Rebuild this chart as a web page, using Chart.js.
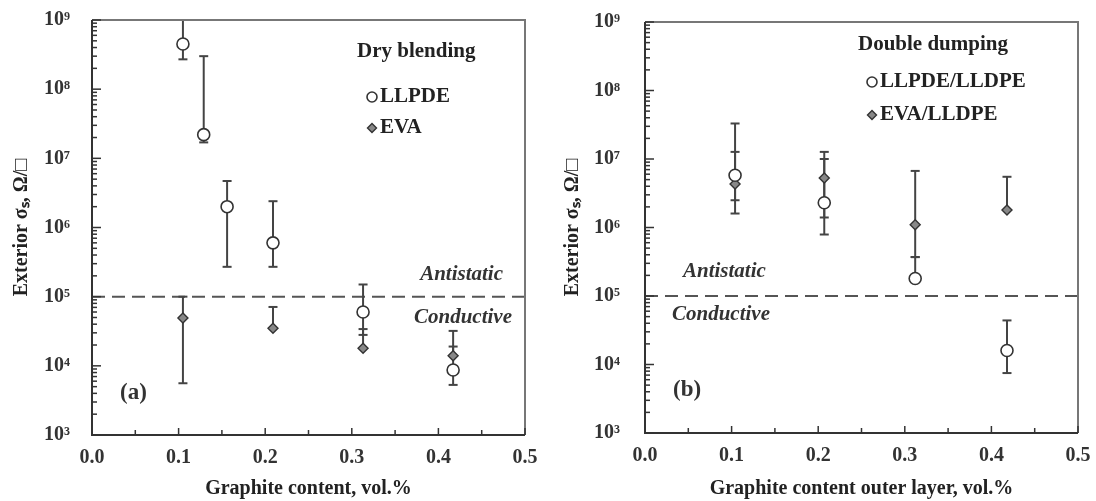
<!DOCTYPE html>
<html lang="en">
<head>
<meta charset="UTF-8" />
<title>Exterior surface resistivity vs graphite content</title>
<style>
  body { margin: 0; background: #fff; }
  .wrap { position: relative; width: 1096px; height: 501px; }
  .panel { position: absolute; top: 0; width: 548px; height: 501px; }
  #left { left: 0; }
  #right { left: 548px; }
</style>
</head>
<body>
<div class="wrap">
  <div class="panel" id="left"><canvas id="chartA" width="548" height="501"></canvas></div>
  <div class="panel" id="right"><canvas id="chartB" width="548" height="501"></canvas></div>
</div>
<script src="https://cdn.jsdelivr.net/npm/chart.js"></script>
<script>
  // axis ticks
  const yMajorExps = [3, 4, 5, 6, 7, 8, 9];
  const yTickLabels = ['10³', '10⁴', '10⁵', '10⁶', '10⁷', '10⁸', '10⁹'];
  const xTickLabels = ['0.0', '0.1', '0.2', '0.3', '0.4', '0.5'];
  const threshold = 1e5;

  // (a) Dry blending
  const aX_LLPDE  = [0.105, 0.129, 0.156, 0.209, 0.313, 0.417];
  const aY_LLPDE  = [4.5e8, 2.2e7, 2.0e6, 6.0e5, 6.0e4, 8.7e3];
  const aLo_LLPDE = [2.7e8, 1.7e7, 2.7e5, 2.7e5, 2.8e4, 5.3e3];
  const aHi_LLPDE = [1.0e9, 3.0e8, 4.7e6, 2.4e6, 1.5e5, 3.2e4];
  const aX_EVA    = [0.105, 0.209, 0.313, 0.417];
  const aY_EVA    = [4.9e4, 3.5e4, 1.8e4, 1.4e4];
  const aLo_EVA   = [5.6e3, 3.5e4, 1.8e4, 1.4e4];
  const aHi_EVA   = [1.0e5, 7.1e4, 3.4e4, 1.9e4];

  // (b) Double dumping
  const bX_LL  = [0.104, 0.207, 0.312, 0.418];
  const bY_LL  = [5.8e6, 2.3e6, 1.8e5, 1.6e4];
  const bLo_LL = [1.6e6, 7.9e5, 1.8e5, 7.5e3];
  const bHi_LL = [3.3e7, 1.0e7, 3.7e5, 4.4e4];
  const bX_EVA  = [0.104, 0.207, 0.312, 0.418];
  const bY_EVA  = [4.3e6, 5.3e6, 1.1e6, 1.8e6];
  const bLo_EVA = [2.5e6, 1.4e6, 3.7e5, 1.8e6];
  const bHi_EVA = [1.27e7, 1.27e7, 6.7e6, 5.5e6];

  const FONT = "'Liberation Serif', 'Times New Roman', serif";
  const INK = '#333';

  // y ticks: majors plus log minors (2..9) per decade
  const yTickValues = [];
  yMajorExps.forEach((e, i) => {
    yTickValues.push(Math.pow(10, e));
    if (i < yMajorExps.length - 1) {
      for (let m = 2; m <= 9; m++) yTickValues.push(m * Math.pow(10, e));
    }
  });

  function toPoints(xs, ys) {
    return xs.map((v, i) => ({ x: v, y: ys[i] }));
  }

  function drawCircle(ctx, x, y, r) {
    ctx.beginPath(); ctx.arc(x, y, r, 0, Math.PI * 2);
    ctx.fillStyle = '#fff'; ctx.fill();
    ctx.lineWidth = 1.6; ctx.strokeStyle = INK; ctx.stroke();
  }
  function drawDiamond(ctx, x, y, r) {
    ctx.beginPath();
    ctx.moveTo(x, y - r); ctx.lineTo(x + r, y); ctx.lineTo(x, y + r); ctx.lineTo(x - r, y);
    ctx.closePath();
    ctx.fillStyle = '#888'; ctx.fill();
    ctx.lineWidth = 1.4; ctx.strokeStyle = INK; ctx.stroke();
  }

  const decorPlugin = {
    id: 'decor',
    beforeDatasetsDraw(chart, args, opts) {
      const { ctx, chartArea: a, scales: { x, y } } = chart;
      ctx.save();
      // Antistatic / Conductive boundary
      const ty = y.getPixelForValue(threshold);
      ctx.strokeStyle = '#555';
      ctx.lineWidth = 2;
      ctx.setLineDash([13, 7]);
      ctx.beginPath(); ctx.moveTo(a.left, ty); ctx.lineTo(a.right, ty); ctx.stroke();
      ctx.setLineDash([]);
      // error bars
      ctx.strokeStyle = '#444';
      ctx.lineWidth = 2;
      opts.errors.forEach(e => {
        e.x.forEach((xv, i) => {
          const px = x.getPixelForValue(xv);
          const p1 = y.getPixelForValue(e.lo[i]);
          const p2 = y.getPixelForValue(e.hi[i]);
          ctx.beginPath(); ctx.moveTo(px, p1); ctx.lineTo(px, p2); ctx.stroke();
          [p1, p2].forEach(p => {
            if (Math.abs(p - y.getPixelForValue(e.y[i])) > 2) {
              ctx.beginPath(); ctx.moveTo(px - 4.5, p); ctx.lineTo(px + 4.5, p); ctx.stroke();
            }
          });
        });
      });
      ctx.restore();
    },
    afterDraw(chart, args, opts) {
      const { ctx, chartArea: a, scales: { x, y } } = chart;
      ctx.save();
      // frame
      ctx.lineWidth = 2;
      ctx.strokeStyle = '#777';
      ctx.beginPath();
      ctx.moveTo(a.left, a.top); ctx.lineTo(a.right, a.top); ctx.lineTo(a.right, a.bottom);
      ctx.stroke();
      ctx.strokeStyle = INK;
      ctx.beginPath();
      ctx.moveTo(a.left, a.top); ctx.lineTo(a.left, a.bottom); ctx.lineTo(a.right, a.bottom);
      ctx.stroke();
      // inward ticks
      ctx.lineWidth = 1.5;
      y.ticks.forEach(t => {
        const p = y.getPixelForValue(t.value);
        const e = Math.log10(t.value);
        const len = Math.abs(e - Math.round(e)) < 1e-6 ? 9 : 5;
        ctx.beginPath(); ctx.moveTo(a.left, p); ctx.lineTo(a.left + len, p); ctx.stroke();
      });
      for (let v = 0.05; v < 0.5; v += 0.05) {
        const p = x.getPixelForValue(v);
        const len = Math.abs(v * 10 - Math.round(v * 10)) < 1e-6 ? 7 : 5;
        ctx.beginPath(); ctx.moveTo(p, a.bottom); ctx.lineTo(p, a.bottom - len); ctx.stroke();
      }
      // texts
      ctx.fillStyle = INK;
      ctx.textBaseline = 'middle';
      opts.texts.forEach(t => {
        ctx.font = t.font;
        ctx.textAlign = t.align;
        ctx.fillText(t.text, (t.fromRight ? a.right : a.left) + t.dx, t.y);
      });
      // legend
      const L = opts.legend;
      ctx.font = 'bold 21px ' + FONT;
      ctx.textAlign = 'left';
      ctx.fillStyle = '#222';
      ctx.fillText(L.title, a.left + L.titleDx, L.titleY);
      ctx.font = 'bold 21px ' + FONT;
      L.items.forEach((it, i) => {
        const sx = a.left + L.symDx, sy = L.itemY[i];
        if (it.style === 'circle') drawCircle(ctx, sx, sy, 5);
        else drawDiamond(ctx, sx, sy, 4.5);
        ctx.fillStyle = '#222';
        ctx.fillText(it.label, sx + 8, sy);
      });
      ctx.restore();
    }
  };

  function makePanel(id, cfg) {
    const tickFont = { family: FONT, size: 20, weight: 'bold' };
    return new Chart(document.getElementById(id), {
      type: 'scatter',
      data: {
        datasets: [
          {
            label: cfg.names[0],
            data: toPoints(cfg.s1.x, cfg.s1.y),
            pointStyle: 'circle',
            pointRadius: 6,
            pointBorderWidth: 1.6,
            backgroundColor: '#fff',
            borderColor: INK
          },
          {
            label: cfg.names[1],
            data: toPoints(cfg.s2.x, cfg.s2.y),
            pointStyle: 'rectRot',
            pointRadius: 5,
            pointBorderWidth: 1.4,
            backgroundColor: '#888',
            borderColor: INK
          }
        ]
      },
      options: {
        responsive: false,
        animation: false,
        layout: { padding: { top: cfg.top, right: cfg.right, left: 0, bottom: 0 } },
        plugins: {
          legend: { display: false },
          tooltip: { enabled: false },
          decor: {
            errors: [
              { x: cfg.s1.x, y: cfg.s1.y, lo: cfg.s1.lo, hi: cfg.s1.hi },
              { x: cfg.s2.x, y: cfg.s2.y, lo: cfg.s2.lo, hi: cfg.s2.hi }
            ],
            texts: cfg.texts,
            legend: cfg.legend
          }
        },
        scales: {
          x: {
            type: 'linear',
            min: 0,
            max: 0.5,
            afterFit: s => { s.height = cfg.xH; s.paddingLeft = 0; s.paddingRight = 0; },
            afterBuildTicks: s => { s.ticks = xTickLabels.map(l => ({ value: parseFloat(l) })); },
            ticks: {
              callback: (v, i) => xTickLabels[i],
              font: tickFont, color: INK, padding: 3, maxRotation: 0
            },
            grid: { display: false },
            border: { display: false },
            title: {
              display: true,
              text: cfg.xTitle,
              font: { family: FONT, size: 20, weight: 'bold' },
              color: '#222',
              padding: { top: 2, bottom: 0 }
            }
          },
          y: {
            type: 'logarithmic',
            min: 1e3,
            max: 1e9,
            afterFit: s => { s.width = cfg.yW; s.paddingTop = 0; s.paddingBottom = 0; },
            afterBuildTicks: s => { s.ticks = yTickValues.map(v => ({ value: v })); },
            ticks: {
              autoSkip: false,
              callback: v => {
                const e = Math.log10(v);
                if (Math.abs(e - Math.round(e)) > 1e-6) return '';
                return yTickLabels[yMajorExps.indexOf(Math.round(e))];
              },
              font: tickFont, color: INK, padding: cfg.yPad
            },
            grid: { display: false },
            border: { display: false },
            title: {
              display: true,
              text: 'Exterior σₛ, Ω/□',
              font: { family: FONT, size: 20, weight: 'bold' },
              color: '#222',
              padding: { top: cfg.yTitlePad, bottom: 0 }
            }
          }
        }
      },
      plugins: [decorPlugin]
    });
  }

  const italic = 'italic bold 21px ' + FONT;
  const panelLabel = 'bold 23px ' + FONT;

  makePanel('chartA', {
    names: ['LLPDE', 'EVA'],
    s1: { x: aX_LLPDE, y: aY_LLPDE, lo: aLo_LLPDE, hi: aHi_LLPDE },
    s2: { x: aX_EVA, y: aY_EVA, lo: aLo_EVA, hi: aHi_EVA },
    top: 20, right: 23, yW: 92, xH: 66, yPad: 14, yTitlePad: 10,
    xTitle: 'Graphite content, vol.%',
    texts: [
      { text: 'Antistatic', font: italic, align: 'right', fromRight: true, dx: -22, y: 275 },
      { text: 'Conductive', font: italic, align: 'right', fromRight: true, dx: -13, y: 318 },
      { text: '(a)', font: panelLabel, align: 'left', dx: 28, y: 393 }
    ],
    legend: {
      title: 'Dry blending', titleDx: 265, titleY: 52,
      symDx: 280, itemY: [97, 128],
      items: [{ style: 'circle', label: 'LLPDE' }, { style: 'diamond', label: 'EVA' }]
    }
  });

  makePanel('chartB', {
    names: ['LLPDE/LLDPE', 'EVA/LLDPE'],
    s1: { x: bX_LL, y: bY_LL, lo: bLo_LL, hi: bHi_LL },
    s2: { x: bX_EVA, y: bY_EVA, lo: bLo_EVA, hi: bHi_EVA },
    top: 22, right: 18, yW: 97, xH: 68, yPad: 17, yTitlePad: 13,
    xTitle: 'Graphite content outer layer, vol.%',
    texts: [
      { text: 'Antistatic', font: italic, align: 'left', dx: 38, y: 272 },
      { text: 'Conductive', font: italic, align: 'left', dx: 27, y: 315 },
      { text: '(b)', font: panelLabel, align: 'left', dx: 28, y: 390 }
    ],
    legend: {
      title: 'Double dumping', titleDx: 213, titleY: 45,
      symDx: 227, itemY: [82, 115],
      items: [{ style: 'circle', label: 'LLPDE/LLDPE' }, { style: 'diamond', label: 'EVA/LLDPE' }]
    }
  });
</script>
</body>
</html>
